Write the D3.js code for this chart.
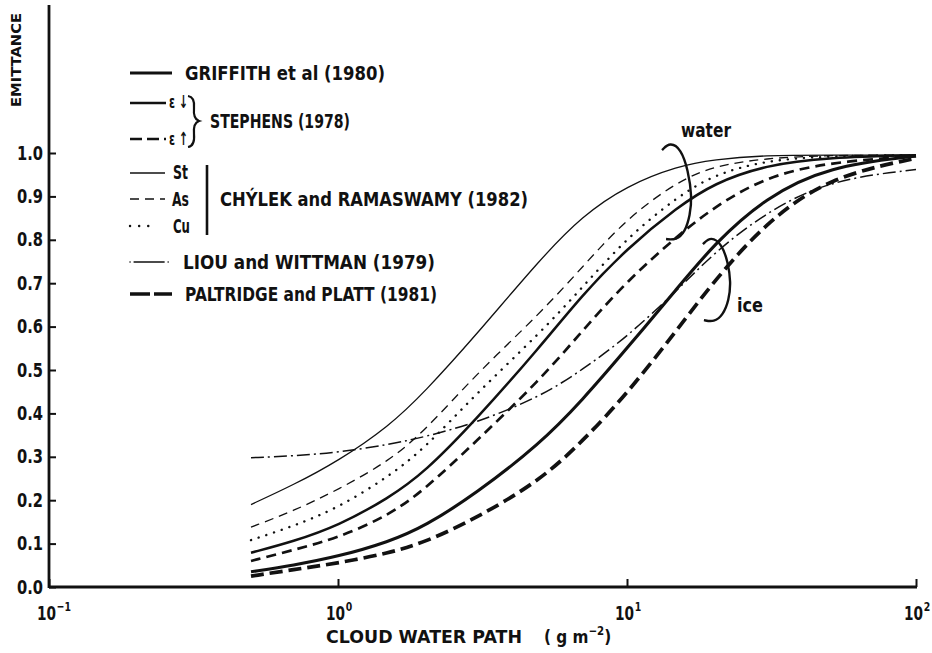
<!DOCTYPE html>
<html>
<head>
<meta charset="utf-8">
<script src="https://cdn.jsdelivr.net/npm/d3@7"></script>
<style>
  body { margin: 0; background: #fff; }
  svg { display: block; }
  text { font-family: "DejaVu Sans", sans-serif; font-weight: bold; fill: #111; }
</style>
</head>
<body>
<svg id="chart" width="932" height="653"></svg>
<script>
// cloud water path (g m-2) at which the curves were read
const cwp = [0.5, 0.7, 1, 1.5, 2, 3, 5, 7, 10, 15, 20, 30, 50, 100];

// emittance, one array per curve
const chylekSt     = [0.19, 0.235, 0.29, 0.37, 0.45, 0.58, 0.755, 0.855, 0.925, 0.97, 0.985, 0.995, 0.995, 0.995];
const chylekAs     = [0.138, 0.175, 0.224, 0.29, 0.36, 0.49, 0.63, 0.737, 0.85, 0.935, 0.97, 0.988, 0.995, 0.995];
const chylekCu     = [0.108, 0.14, 0.182, 0.255, 0.32, 0.445, 0.585, 0.69, 0.805, 0.9, 0.95, 0.983, 0.993, 0.995];
const stephensDown = [0.079, 0.105, 0.141, 0.205, 0.265, 0.385, 0.553, 0.673, 0.78, 0.876, 0.93, 0.972, 0.99, 0.995];
const stephensUp   = [0.06, 0.085, 0.113, 0.165, 0.225, 0.335, 0.477, 0.59, 0.705, 0.81, 0.875, 0.945, 0.979, 0.993];
const griffith     = [0.035, 0.05, 0.07, 0.104, 0.14, 0.215, 0.33, 0.43, 0.55, 0.69, 0.79, 0.897, 0.97, 0.993];
const paltridge    = [0.025, 0.04, 0.055, 0.078, 0.103, 0.158, 0.245, 0.335, 0.445, 0.595, 0.705, 0.838, 0.945, 0.988];
const liou         = [0.298, 0.302, 0.31, 0.328, 0.346, 0.378, 0.438, 0.5, 0.576, 0.685, 0.77, 0.862, 0.938, 0.962];

const yTicks = [0, 0.1, 0.2, 0.3, 0.4, 0.5, 0.6, 0.7, 0.8, 0.9, 1.0];
const xTicks = [0.1, 1, 10, 100];
const xTickExp = ["-1", "0", "1", "2"];

// line styles (kept apart from the data)
const styles = {
  chylekSt:     { w: 1.3, dash: null },
  chylekAs:     { w: 1.3, dash: "9,6" },
  chylekCu:     { w: 2.4, dash: "0.1,8", cap: "round" },
  stephensDown: { w: 2.5, dash: null },
  stephensUp:   { w: 2.7, dash: "10,6" },
  griffith:     { w: 3.1, dash: null },
  paltridge:    { w: 3.7, dash: "13,6" },
  liou:         { w: 1.5, dash: "13,4,2,4" }
};

const series = [
  { key: "chylekSt", values: chylekSt },
  { key: "chylekAs", values: chylekAs },
  { key: "chylekCu", values: chylekCu },
  { key: "stephensDown", values: stephensDown },
  { key: "stephensUp", values: stephensUp },
  { key: "griffith", values: griffith },
  { key: "paltridge", values: paltridge },
  { key: "liou", values: liou }
];

const svg = d3.select("#chart");

const x = d3.scaleLog().domain([0.1, 100]).range([49, 916]);
const y = d3.scaleLinear().domain([0, 1]).range([587, 153]);

const applyStyle = (sel, s) =>
  sel
    .attr("fill", "none")
    .attr("stroke", "#111")
    .attr("stroke-width", s.w)
    .attr("stroke-dasharray", s.dash)
    .attr("stroke-linecap", s.cap || "butt");

// Y axis (ticks point inwards, line runs up past 1.0)
const yAxis = svg
  .append("g")
  .attr("transform", `translate(${x(0.1)},0)`)
  .call(d3.axisLeft(y).tickValues(yTicks).tickSize(-7).tickPadding(6).tickFormat(d3.format(".1f")))
  .call((g) => g.select(".domain").remove());
yAxis.selectAll(".tick line").attr("stroke", "#111").attr("stroke-width", 2);
yAxis
  .selectAll(".tick text")
  .style("font-size", "19px")
  .attr("fill", "#111")
  .attr("textLength", 26)
  .attr("lengthAdjust", "spacingAndGlyphs");

svg
  .append("line")
  .attr("x1", x(0.1)).attr("x2", x(0.1))
  .attr("y1", y(0) + 1).attr("y2", 5)
  .attr("stroke", "#111").attr("stroke-width", 2.8);

// X axis
const xAxis = svg
  .append("g")
  .attr("transform", `translate(0,${y(0)})`)
  .call(d3.axisBottom(x).tickValues(xTicks).tickSize(-8).tickFormat(""))
  .call((g) => g.select(".domain").remove());
xAxis.selectAll(".tick line").attr("stroke", "#111").attr("stroke-width", 2);

svg
  .append("line")
  .attr("x1", x(0.1)).attr("x2", x(100) + 1)
  .attr("y1", y(0)).attr("y2", y(0))
  .attr("stroke", "#111").attr("stroke-width", 2.8);

// decade labels 10^n, squeezed horizontally like the lettering of the figure
const xl = svg
  .selectAll(".xlab")
  .data(xTicks)
  .join("text")
  .attr("class", "xlab")
  .attr("transform", (d) => `translate(${x(d) - 12},${y(0) + 33}) scale(0.72,1)`)
  .style("font-size", "19px");
xl.append("tspan").text("10");
xl.append("tspan")
  .attr("dy", -9)
  .attr("dx", 1)
  .style("font-size", "13px")
  .text((d, i) => xTickExp[i].replace("-", "\u2212"));

// axis titles
svg
  .append("text")
  .attr("transform", "translate(21,60) rotate(-90)")
  .attr("text-anchor", "middle")
  .attr("textLength", 94)
  .attr("lengthAdjust", "spacingAndGlyphs")
  .style("font-size", "14px")
  .text("EMITTANCE");

svg
  .append("text")
  .attr("x", 326)
  .attr("y", 643)
  .attr("textLength", 196)
  .attr("lengthAdjust", "spacingAndGlyphs")
  .style("font-size", "18px")
  .text("CLOUD WATER PATH");

const unit = svg
  .append("text")
  .attr("transform", "translate(544,643) scale(0.85,1)")
  .style("font-size", "18px");
unit.append("tspan").text("( g m");
unit.append("tspan").attr("dy", -8).style("font-size", "12px").text("\u22122");
unit.append("tspan").attr("dy", 8).text(")");

// curves
const line = d3
  .line()
  .x((d) => x(d[0]))
  .y((d) => y(d[1]))
  .curve(d3.curveBasis);

series.forEach((s) => {
  svg
    .append("path")
    .datum(cwp.map((c, i) => [c, s.values[i]]))
    .attr("d", line)
    .call(applyStyle, styles[s.key]);
});

// water / ice brackets, anchored in data space
const bracket = d3.line().curve(d3.curveBasis);
const waterShape = [[-18, -42], [-10, -50], [1, -43], [8, -22], [12, 5], [10, 23], [5, 40], [-4, 48], [-14, 47]];
const iceShape = [[-16, -36], [-8, -44], [3, -36], [9, -18], [12, 2], [10, 20], [4, 35], [-5, 42], [-15, 40]];

const drawBracket = (cx, cy, shape) =>
  svg
    .append("path")
    .attr("d", bracket(shape.map((p) => [x(cx) + p[0], y(cy) + p[1]])))
    .attr("fill", "none")
    .attr("stroke", "#111")
    .attr("stroke-width", 2.4);

drawBracket(15.26, 0.91, waterShape);
drawBracket(20.8, 0.707, iceShape);

svg.append("text").attr("x", 681).attr("y", 137).style("font-size", "19px")
  .attr("textLength", 50).attr("lengthAdjust", "spacingAndGlyphs").text("water");
svg.append("text").attr("x", 737).attr("y", 312).style("font-size", "19px")
  .attr("textLength", 26).attr("lengthAdjust", "spacingAndGlyphs").text("ice");

// legend
const leg = svg.append("g");
const legendRows = [
  { key: "griffith", y: 73, x2: 172 },
  { key: "stephensDown", y: 103, x2: 166 },
  { key: "stephensUp", y: 139, x2: 166 },
  { key: "chylekSt", y: 173, x2: 165 },
  { key: "chylekAs", y: 199, x2: 165 },
  { key: "chylekCu", y: 226, x2: 155 },
  { key: "liou", y: 262, x2: 172 },
  { key: "paltridge", y: 294, x2: 172 }
];
const legendDash = { chylekCu: "0.1,9", liou: "0.1,4,30,4", paltridge: "20,4", stephensUp: "12,5" };

legendRows.forEach((r) => {
  const s = Object.assign({}, styles[r.key]);
  if (legendDash[r.key]) s.dash = legendDash[r.key];
  if (r.key === "liou") s.cap = "round";
  leg
    .append("line")
    .attr("x1", 130).attr("x2", r.x2)
    .attr("y1", r.y).attr("y2", r.y)
    .call(applyStyle, s);
});

const legText = (tx, ty, str, len, size) => {
  const t = leg
    .append("text")
    .attr("x", tx)
    .attr("y", ty)
    .attr("dy", "0.36em")
    .style("font-size", (size || 19) + "px")
    .text(str);
  if (len) t.attr("textLength", len).attr("lengthAdjust", "spacingAndGlyphs");
  return t;
};

legText(185, 73, "GRIFFITH et al (1980)", 200);
legText(169, 102, "\u03b5 \u2193", 19, 18);
legText(169, 139, "\u03b5 \u2191", 19, 18);
legText(210, 121, "STEPHENS (1978)", 140);
legText(173, 172, "St", 15);
legText(172, 199, "As", 17);
legText(173, 226, "Cu", 17);
legText(220, 199, "CH\u00ddLEK and RAMASWAMY (1982)", 308);
legText(183, 262, "LIOU and WITTMAN (1979)", 252);
legText(185, 294, "PALTRIDGE and PLATT (1981)", 252);

// stephens brace
leg
  .append("path")
  .attr("d", "M188,96 Q195,97 194,108 Q193,119 199,121 Q193,123 194,134 Q195,146 188,147")
  .attr("fill", "none")
  .attr("stroke", "#111")
  .attr("stroke-width", 2.2);

// chylek bar
leg
  .append("line")
  .attr("x1", 207).attr("x2", 207)
  .attr("y1", 165).attr("y2", 235)
  .attr("stroke", "#111")
  .attr("stroke-width", 2.6);
</script>
</body>
</html>
